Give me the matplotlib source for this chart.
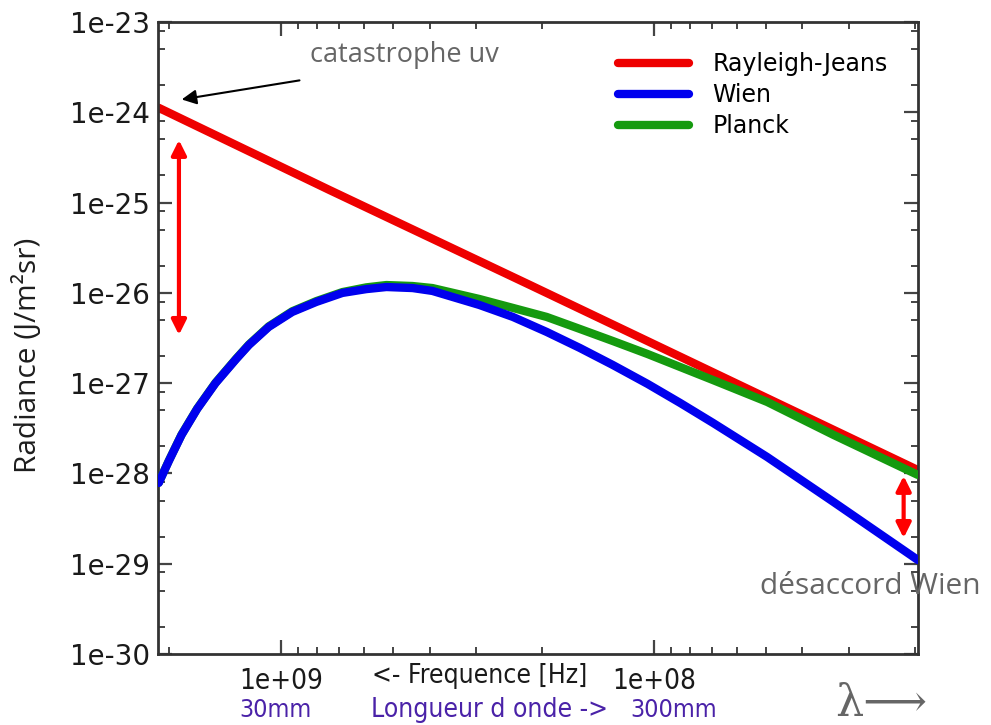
import matplotlib
matplotlib.use('Agg')
import matplotlib.pyplot as plt
from matplotlib.ticker import LogLocator, FuncFormatter, NullFormatter

# frequencies (Hz), high to low
freq = [2.13e9, 2.0e9, 1.85e9, 1.68e9, 1.50e9, 1.32e9, 1.22e9, 1.08e9,
        9.34e8, 8.05e8, 6.85e8, 5.91e8, 5.22e8, 4.44e8, 3.93e8, 2.94e8,
        2.39e8, 1.94e8, 1.58e8, 1.29e8, 1.04e8, 8.51e7, 6.94e7, 4.97e7,
        3.30e7, 1.96e7]

wien = [7.85e-29, 1.38e-28, 2.67e-28, 5.18e-28, 1.00e-27, 1.85e-27,
        2.65e-27, 4.19e-27, 6.14e-27, 7.93e-27, 9.98e-27, 1.10e-26,
        1.16e-26, 1.13e-26, 1.05e-26, 7.34e-27, 5.41e-27, 3.69e-27,
        2.45e-27, 1.59e-27, 9.8e-28, 6.04e-28, 3.62e-28, 1.52e-28,
        4.83e-29, 1.10e-29]

planck = [7.9e-29, 1.39e-28, 2.69e-28, 5.22e-28, 1.01e-27, 1.87e-27,
          2.68e-27, 4.25e-27, 6.25e-27, 8.1e-27, 1.02e-26, 1.15e-26,
          1.22e-26, 1.19e-26, 1.13e-26, 8.55e-27, 6.81e-27, 5.41e-27,
          3.98e-27, 2.93e-27, 2.10e-27, 1.51e-27, 1.08e-27, 6.19e-28,
          2.67e-28, 9.62e-29]

rj_freq = [2.13e9, 7.43e8, 2.15e8, 1.96e7]
rayleigh_jeans = [1.12e-24, 1.38e-25, 1.22e-26, 1.09e-28]

x_ticks = [1e9, 1e8]
y_ticks = [1e-30, 1e-29, 1e-28, 1e-27, 1e-26, 1e-25, 1e-24, 1e-23]

GREY = '#666666'
PURPLE = '#4a22a8'

fig = plt.figure(figsize = (9.91, 7.25), dpi = 100)
ax = fig.add_axes([0.1594, 0.0979, 0.7668, 0.8718])

l_rj, = ax.plot(rj_freq, rayleigh_jeans, color = '#ee0000', lw = 6,
                solid_capstyle = 'round', zorder = 2)
l_pl, = ax.plot(freq, planck, color = '#159a0f', lw = 6,
                solid_capstyle = 'round', solid_joinstyle = 'round', zorder = 3)
l_wi, = ax.plot(freq, wien, color = '#0000ee', lw = 6,
                solid_capstyle = 'round', solid_joinstyle = 'round', zorder = 4)

ax.set_xscale('log')
ax.set_yscale('log')
ax.set_xlim(2.14e9, 1.96e7)
ax.set_ylim(1e-30, 1e-23)

ax.set_xticks(x_ticks)
ax.set_yticks(y_ticks)
ax.xaxis.set_minor_locator(LogLocator(base = 10, subs = range(2, 10), numticks = 50))
ax.yaxis.set_minor_locator(LogLocator(base = 10, subs = (2, 5, 8), numticks = 50))
fmt = FuncFormatter(lambda v, pos: '%g' % v)
ax.xaxis.set_major_formatter(fmt)
ax.yaxis.set_major_formatter(fmt)
ax.xaxis.set_minor_formatter(NullFormatter())
ax.yaxis.set_minor_formatter(NullFormatter())

ax.tick_params(which = 'both', direction = 'in', top = True, right = True,
               color = '#444444')
ax.tick_params(which = 'major', length = 10, width = 1.6)
ax.tick_params(which = 'minor', length = 5, width = 1.4)
ax.tick_params(axis = 'y', labelsize = 20, pad = 6, labelcolor = '#1a1a1a')
ax.tick_params(axis = 'x', labelsize = 20, pad = 9, labelcolor = '#1a1a1a')
for lab in ax.get_xticklabels():
    lab.set_fontstretch('condensed')
for sp in ax.spines.values():
    sp.set_color('#333333')
    sp.set_linewidth(2)

leg = ax.legend([l_rj, l_wi, l_pl], ['Rayleigh-Jeans', 'Wien', 'Planck'],
                loc = 'upper right', bbox_to_anchor = (0.96, 0.952),
                borderpad = 0, borderaxespad = 0,
                frameon = False, fontsize = 17, handlelength = 3.0,
                handletextpad = 1.0, labelspacing = 0.29)
for h in leg.get_lines():
    h.set_linewidth(6)

# x axis labels, written below like in the original
ax.text(0.423, -0.034, '<- Frequence [Hz]', transform = ax.transAxes,
        ha = 'center', va = 'center', fontsize = 19, fontstretch = 'condensed',
        color = '#1a1a1a')
ax.text(0.154, -0.089, '30mm', transform = ax.transAxes, ha = 'center',
        va = 'center', fontsize = 18, fontstretch = 'condensed', color = PURPLE)
ax.text(0.436, -0.089, 'Longueur d onde ->', transform = ax.transAxes,
        ha = 'center', va = 'center', fontsize = 19, fontstretch = 'condensed',
        color = PURPLE)
ax.text(0.678, -0.089, '300mm', transform = ax.transAxes, ha = 'center',
        va = 'center', fontsize = 18, fontstretch = 'condensed', color = PURPLE)

# arrows
ax.annotate('', xy = (1.88e9, 1.37e-24), xytext = (8.78e8, 2.28e-24),
            arrowprops = dict(arrowstyle = '-|>', color = 'black', lw = 1.5,
                              mutation_scale = 22))
ax.annotate('', xy = (1.88e9, 4.93e-25), xytext = (1.88e9, 3.42e-27),
            arrowprops = dict(arrowstyle = '<|-|>', color = 'red', lw = 3,
                              mutation_scale = 22, shrinkA = 0, shrinkB = 0))
ax.annotate('', xy = (2.14e7, 9.38e-29), xytext = (2.14e7, 1.93e-29),
            arrowprops = dict(arrowstyle = '<|-|>', color = 'red', lw = 3,
                              mutation_scale = 22, shrinkA = 0, shrinkB = 0))

fig.text(310 / 991, 1 - 55 / 725, 'catastrophe uv', ha = 'left', va = 'center',
         fontsize = 19.5, family = 'Open Sans', color = GREY)
fig.text(760 / 991, 1 - 587 / 725, 'désaccord Wien', ha = 'left', va = 'center',
         fontsize = 21.5, family = 'Open Sans', color = GREY)
fig.text(835 / 991, 1 - 703 / 725, 'λ⟶', ha = 'left', va = 'center',
         fontsize = 32, family = ['DejaVu Serif', 'DejaVu Sans'], color = GREY)
fig.text(28 / 991, 1 - 355 / 725, 'Radiance (J/m²sr)', rotation = 90,
         ha = 'center', va = 'center', fontsize = 21.5, family = 'Open Sans',
         color = '#1e1e1e')

fig.savefig('out.png', dpi = 100)
